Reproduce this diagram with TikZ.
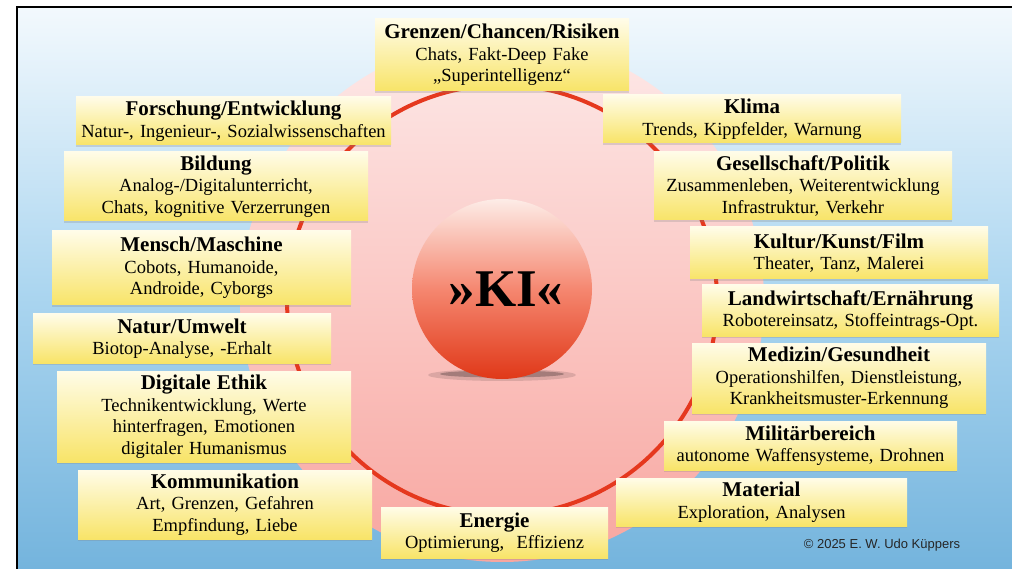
\documentclass[tikz,border=0pt]{standalone}
\usepackage{fontspec}
\setmainfont{Liberation Serif}
\newfontfamily\copyfont{Liberation Sans}
\usetikzlibrary{shadows}
\definecolor{skytop}{RGB}{243,249,253}
\definecolor{skymid}{RGB}{172,214,240}
\definecolor{skybot}{RGB}{116,180,221}
\definecolor{rosetop}{RGB}{253,233,232}
\definecolor{rosebot}{RGB}{248,166,160}
\definecolor{ringred}{RGB}{229,56,30}
\definecolor{balltop}{RGB}{253,236,231}
\definecolor{ballmid}{RGB}{245,135,112}
\definecolor{ballbot}{RGB}{224,56,24}
\definecolor{boxtop}{RGB}{255,252,232}
\definecolor{boxbot}{RGB}{248,228,104}
\newcommand{\hd}[1]{{\fontsize{21}{21.5}\selectfont\bfseries #1}}

\begin{document}
\begin{tikzpicture}[x=1pt,y=1pt,
  topic/.style={top color=boxtop,bottom color=boxbot,align=center,inner sep=2pt,font=\fontsize{18.5}{21.5}\selectfont,text=black,drop shadow={shadow xshift=0pt,shadow yshift=-2pt,opacity=.25}}]
\useasboundingbox (0,0) rectangle (1012,-569);
% background, frame
\shade[top color=skytop,bottom color=skybot,middle color=skymid] (17,-7) rectangle (1012,-569);
\draw[line width=1.5pt] (17,-569) -- (17,-7) -- (1012,-7);
% pink disk and red ring
\shade[top color=rosetop,bottom color=rosebot] (502,-300) circle[radius=262];
\draw[ringred,line width=4pt] (502,-300) circle[radius=215];
% ball
\fill[black,opacity=.12] (502,-375) ellipse[x radius=74,y radius=6];
\fill[black,opacity=.25] (502,-374) ellipse[x radius=62,y radius=3.5];
\node[circle,minimum size=180pt,inner sep=0pt,top color=balltop,bottom color=ballbot,middle color=ballmid,font=\fontsize{53}{53}\selectfont\bfseries] (ki) at (502,-289) {\hspace{8pt}»KI«};

% top and bottom
\node[topic,minimum height=72pt,text width=250pt] (grenzen) at (502,-55) {\hd{Grenzen/Chancen/Risiken}\\Chats, Fakt-Deep Fake\\„Superintelligenz“};
\node[topic,minimum height=51pt,text width=223pt] (energie) at (494.5,-532.5) {\hd{Energie}\\Optimierung,~ Effizienz};

% left column
\node[topic,minimum height=48pt,text width=311pt] (forschung) at (233.5,-121) {\hd{Forschung/Entwicklung}\\Natur-, Ingenieur-, Sozialwissenschaften};
\node[topic,minimum height=69pt,text width=300pt] (bildung) at (216,-186.5) {\hd{Bildung}\\Analog-/Digitalunterricht,\\Chats, kognitive Verzerrungen};
\node[topic,minimum height=74pt,text width=295pt] (mensch) at (201.5,-268) {\hd{Mensch/Maschine}\\Cobots, Humanoide,\\Androide, Cyborgs};
\node[topic,minimum height=49pt,text width=294pt] (natur) at (182,-338.5) {\hd{Natur/Umwelt}\\Biotop-Analyse, -Erhalt};
\node[topic,minimum height=91pt,text width=290pt] (ethik) at (204,-416.5) {\hd{Digitale Ethik}\\Technikentwicklung, Werte\\hinterfragen, Emotionen\\digitaler Humanismus};
\node[topic,minimum height=69pt,text width=290pt] (kommunikation) at (225,-504.5) {\hd{Kommunikation}\\Art, Grenzen, Gefahren\\Empfindung, Liebe};

% right column
\node[topic,minimum height=48pt,text width=294pt] (klima) at (752,-119) {\hd{Klima}\\Trends, Kippfelder, Warnung};
\node[topic,minimum height=68pt,text width=294pt] (gesellschaft) at (803,-186) {\hd{Gesellschaft/Politik}\\Zusammenleben, Weiterentwicklung\\Infrastruktur, Verkehr};
\node[topic,minimum height=52pt,text width=294pt] (kultur) at (839,-253) {\hd{Kultur/Kunst/Film}\\Theater, Tanz, Malerei};
\node[topic,minimum height=51pt,text width=293pt] (landwirtschaft) at (850.5,-310.5) {\hd{Landwirtschaft/Ernährung}\\Robotereinsatz, Stoffeintrags-Opt.};
\node[topic,minimum height=70pt,text width=290pt] (medizin) at (839,-378) {\hd{Medizin/Gesundheit}\\Operationshilfen, Dienstleistung,\\Krankheitsmuster-Erkennung};
\node[topic,minimum height=49pt,text width=289pt] (militaer) at (810.5,-445.5) {\hd{Militärbereich}\\autonome Waffensysteme, Drohnen};
\node[topic,minimum height=48pt,text width=287pt] (material) at (761.5,-502) {\hd{Material}\\Exploration, Analysen};

\node[font=\copyfont\fontsize{13}{15}\selectfont,text=black!85] (copyright) at (882,-545) {© 2025 E. W. Udo Küppers};
\end{tikzpicture}
\end{document}
